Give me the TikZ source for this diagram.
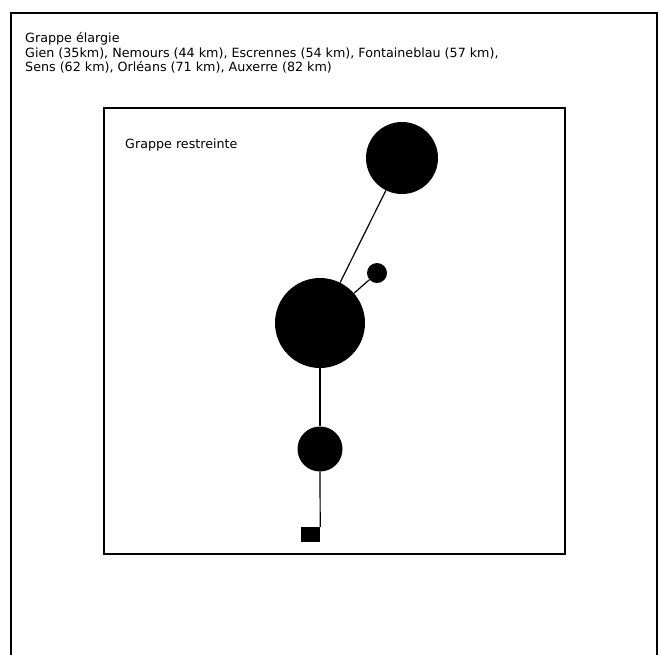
\documentclass[tikz,border=0pt]{standalone}
\usepackage{fontspec}
\setmainfont{DejaVu Sans}
\usepackage{tikz}

\begin{document}
\begin{tikzpicture}[x=1pt,y=-1pt,
        ville/.style={circle, fill=black, inner sep=0pt},
        liaison/.style={line width=1.2pt},
        cadre/.style={line width=1.4pt},
        legende/.style={anchor=north west, align=left, inner sep=0pt, font=\fontsize{12.7}{14.5}\selectfont}]
        \useasboundingbox (0,0) rectangle (661,654);
        \draw[cadre] (11,700) -- (11,13) -- (657,13) -- (657,700);
        \draw[cadre] (104,108) rectangle (565,554);
        \node[legende] (elargie) at (25,32.5) {Grappe élargie\\Gien (35km), Nemours (44 km), Escrennes (54 km), Fontaineblau (57 km),\\Sens (62 km), Orléans (71 km), Auxerre (82 km)};
        \node[legende] (restreinte) at (125,138.5) {Grappe restreinte};
        \node[ville, minimum size=72pt] (nord) at (402,158) {};
        \node[ville, minimum size=90pt] (centre) at (320,323) {};
        \node[ville, minimum size=20pt] (petite) at (377,273) {};
        \node[ville, minimum size=45pt] (sud) at (320,449) {};
        \node[fill=black, inner sep=0pt, minimum width=19pt, minimum height=15pt] (gare) at (310.5,534.5) {};
        \draw[liaison] (centre) -- (nord);
        \draw[liaison] (centre) -- (petite);
        \draw[liaison] (centre) -- (sud);
        \draw[liaison] (sud.south) -- (gare.north east);
        %\draw[dashed] (centre) -- (gare);
\end{tikzpicture}
\end{document}
